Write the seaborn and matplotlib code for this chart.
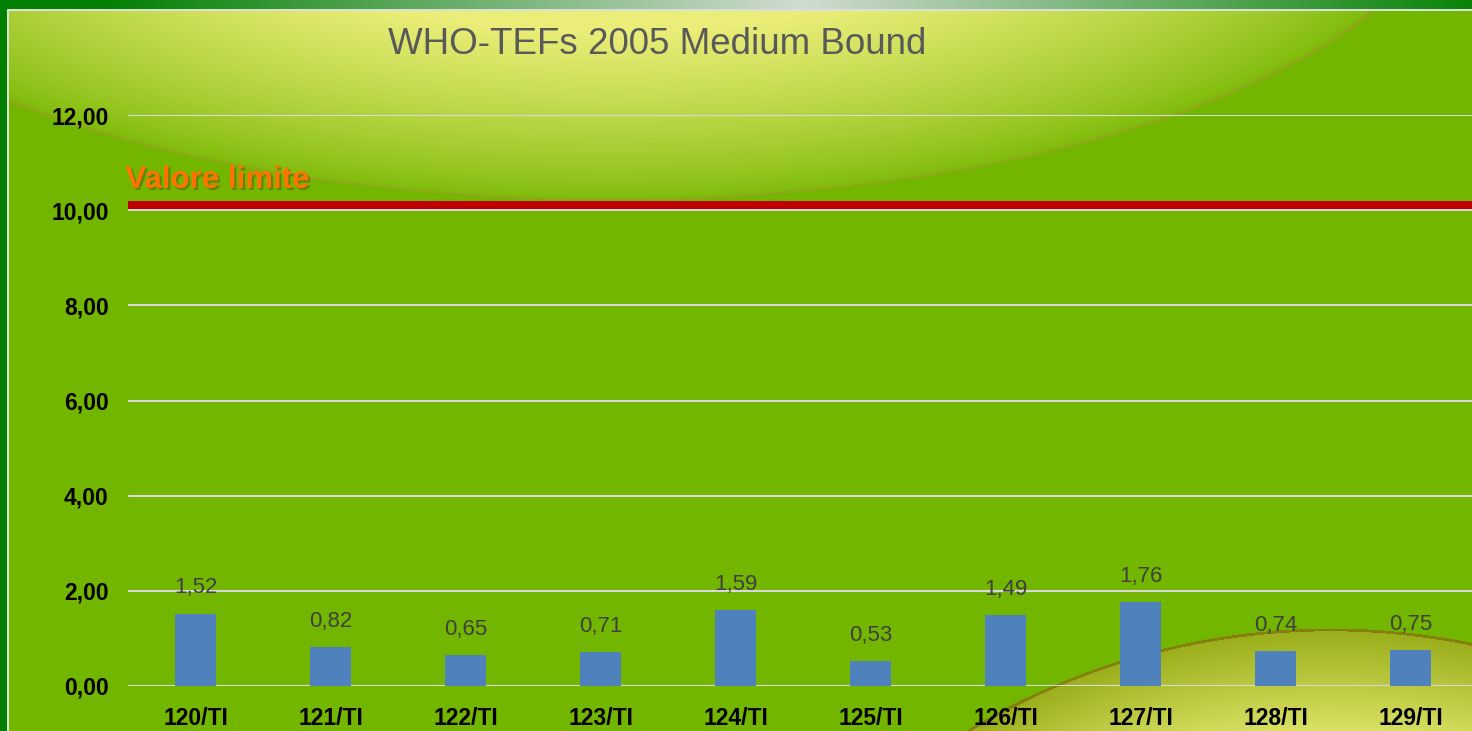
import numpy as np
import pandas as pd
import seaborn as sns
import matplotlib.pyplot as plt
import matplotlib.patheffects as pe

categorie = ['120/TI', '121/TI', '122/TI', '123/TI', '124/TI',
             '125/TI', '126/TI', '127/TI', '128/TI', '129/TI']
valori = [1.52, 0.82, 0.65, 0.71, 1.59, 0.53, 1.49, 1.76, 0.74, 0.75]
valore_limite = 10.1
y_ticks = [0, 2, 4, 6, 8, 10, 12]

W, H = 1472, 731


def sfondo():
    # slide-like background: green field with two glowing ellipses
    yy, xx = np.mgrid[0:H, 0:W].astype(float)
    img = np.zeros((H, W, 3))
    img[:] = np.array([0x72, 0xb6, 0x00]) / 255

    giallo = np.array([0.92, 0.93, 0.47])
    base = np.array([0.49, 0.73, 0.03])
    r = np.sqrt(((xx - 610) / 850) ** 2 + ((yy + 136) / 336) ** 2)
    m = r <= 1
    w = np.clip((1 - r) / 0.5, 0, 1) ** 0.8
    img[m] = base * (1 - w[m, None]) + giallo * w[m, None]
    rim = (r > 0.994) & (r <= 1.0)
    img[rim] = [0.56, 0.66, 0.10]

    r2 = np.sqrt((xx - 1330) ** 2 + (yy - 1328) ** 2) / 700
    m2 = r2 <= 1
    w2 = np.clip((1 - r2) / 0.16, 0, 1)
    olive = np.array([0.60, 0.68, 0.10])
    giallo2 = np.array([0.88, 0.90, 0.42])
    img[m2] = olive * (1 - w2[m2, None]) + giallo2 * w2[m2, None]
    rim2 = (r2 > 0.996) & m2
    img[rim2] = [0.52, 0.50, 0.06]

    # outer slide frame
    scuro = np.array([0.0, 0.5, 0.0])
    top = yy < 9
    t = np.clip(1 - np.abs(xx - 800) / 700, 0, 1)
    img[top] = (scuro * (1 - t[top, None]) + np.array([0.82, 0.86, 0.82]) * t[top, None])
    img[(xx < 7) & (yy >= 9)] = scuro
    img[(yy >= 9) & (yy < 11) & (xx >= 7)] = [0.85, 0.88, 0.85]
    img[(xx >= 7) & (xx < 9) & (yy >= 9)] = [0.85, 0.88, 0.85]
    return img


def main():
    plt.rcParams['font.family'] = ['Liberation Sans', 'DejaVu Sans']
    df = pd.DataFrame({'campione': categorie, 'valore': valori})

    fig = plt.figure(figsize=(W / 100, H / 100), dpi=100)
    bg = fig.add_axes([0, 0, 1, 1], zorder=-1)
    bg.imshow(sfondo(), aspect='auto', interpolation='bilinear')
    bg.axis('off')

    ax = fig.add_axes([128 / W, 45 / H, 1350 / W, 571 / H])
    ax.patch.set_alpha(0)
    for y in y_ticks:
        ax.axhline(y, color='#d9d9d9', lw=1.5, zorder=0)
    sns.barplot(data=df, x='campione', y='valore', color='#4f81bd',
                saturation=1, width=0.31, ax=ax, zorder=2)
    ax.bar_label(ax.containers[0], fmt=lambda v: f'{v:.2f}'.replace('.', ','),
                 padding=11, fontsize=16, color='#404040')

    ax.axhline(valore_limite, color='#c00000', lw=5.8, zorder=3)
    ax.text(-0.002, 10.47, 'Valore limite', transform=ax.get_yaxis_transform(),
            color='#ff7400', fontsize=22.5, fontweight='bold', va='baseline',
            ha='left',
            path_effects=[pe.SimplePatchShadow(offset=(1.5, -1.5), alpha=0.35),
                          pe.Normal()])

    ax.set_ylim(0, 12)
    ax.set_xlim(-0.5, len(categorie) - 0.5)
    ax.set_yticks(y_ticks)
    ax.set_yticklabels([f'{v:.2f}'.replace('.', ',') for v in y_ticks],
                       fontsize=16.5, fontweight='bold')
    ax.tick_params(axis='y', length=0, pad=14)
    ax.tick_params(axis='x', length=0, pad=15, labelsize=16.5)
    for lab in ax.get_xticklabels():
        lab.set_fontweight('bold')
    ax.set_xlabel('')
    ax.set_ylabel('')
    for s in ax.spines.values():
        s.set_visible(False)

    fig.text(657 / W, 1 - 45 / H, 'WHO-TEFs 2005 Medium Bound',
             ha='center', va='center', fontsize=26.5, color='#595959')

    plt.savefig('out.png', dpi=100)


main()
